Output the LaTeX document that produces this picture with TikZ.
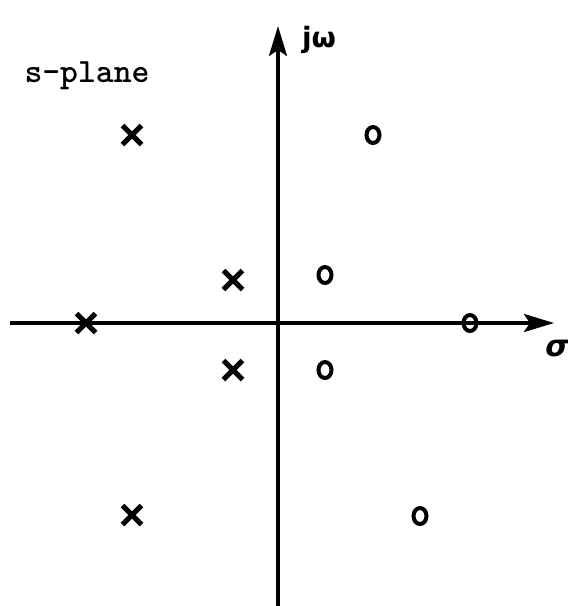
\documentclass[tikz,border=0pt]{standalone}
\usepackage{amsmath}
\usepackage{fontspec}
\newfontfamily\lblfont{DejaVu Sans}
\usetikzlibrary{shapes.geometric, shapes.misc, arrows.meta, positioning}
\tikzset{
	axisline/.style ={line width=1.8pt, -{Stealth[length=15pt, width=9pt, inset=3pt]}},
	pole/.style     ={cross out, draw=black, line width=2.5pt, minimum size=7pt, inner sep=0pt},
	zero/.style     ={ellipse, draw=black, line width=2pt, minimum width=6.5pt, minimum height=8pt, inner sep=0pt},
	axislabel/.style={font=\lblfont\bfseries\fontsize{14}{16}\selectfont},
}
\begin{document}
\begin{tikzpicture}[x=0.5pt, y=-0.5pt]
					\useasboundingbox (0,0) rectangle (568,606);
					% axes
					\coordinate (O) at (278,323);
					\coordinate (xl) at (10,323);
					\coordinate (xr) at (554,323);
					\coordinate (yb) at (278,606);
					\coordinate (yt) at (278,26);
					\draw[axisline] (xl) -- (xr);
					\draw[axisline] (yb) -- (yt);
					\node[axislabel] (jw) at (319,40) {jω};
					\node[axislabel, font=\lblfont\bfseries\itshape\fontsize{15}{17}\selectfont] (sig) at (557,349) {σ};
					\node[font=\fontsize{17}{20}\selectfont\ttfamily\bfseries] (splane) at (87,76) {s-plane};
					% poles
					\node[pole] (p1) at (132,135) {};
					\node[pole] (p2) at (233,280) {};
					\node[pole] (p3) at (86,323) {};
					\node[pole] (p4) at (233,370) {};
					\node[pole] (p5) at (132,515) {};
					% zeros
					\node[zero] (z1) at (373,135) {};
					\node[zero] (z2) at (325,275) {};
					\node[zero] (z3) at (470,323) {};
					\node[zero] (z4) at (325,370) {};
					\node[zero] (z5) at (420,516) {};
				\end{tikzpicture}
\end{document}
